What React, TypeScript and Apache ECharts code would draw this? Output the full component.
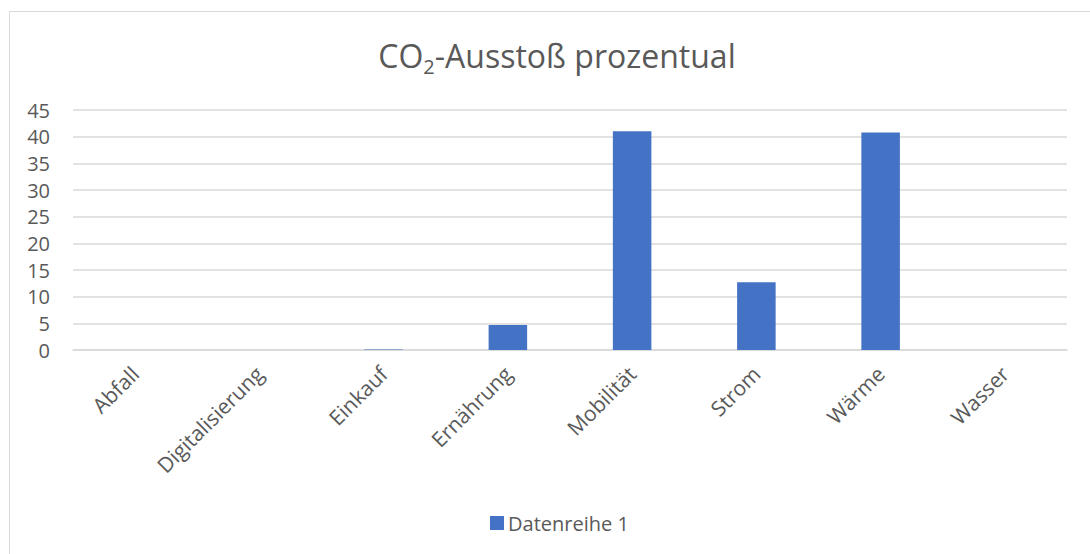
import React, { useEffect, useRef } from "react";
import * as echarts from "echarts";

const categories = ["Abfall", "Digitalisierung", "Einkauf", "Ernährung", "Mobilität", "Strom", "Wärme", "Wasser"];
const values = [0, 0, 0.1, 4.7, 41.0, 12.7, 40.8, 0];
const seriesName = "Datenreihe 1";
const FONT = "'Open Sans', sans-serif";
const TEXT = "#595959";

export default function App() {
  const ref = useRef<HTMLDivElement>(null);
  useEffect(() => {
    if (!ref.current) return;
    const chart = echarts.init(ref.current, null, { renderer: "svg" });
    chart.setOption({
      animation: false,
      backgroundColor: "#ffffff",
      title: {
        text: "CO{sub|2}-Ausstoß prozentual",
        left: 552,
        textAlign: "center",
        top: 29,
        textStyle: {
          fontFamily: FONT,
          fontSize: 32,
          fontWeight: "normal",
          color: TEXT,
          rich: {
            sub: { fontFamily: FONT, fontSize: 20, color: TEXT, padding: [22, 0, 0, 0] },
          },
        },
      },
      graphic: [
        {
          type: "rect",
          shape: { x: 9.5, y: 11.5, width: 1200, height: 700 },
          style: { fill: "none", stroke: "#d9d9d9", lineWidth: 1 },
          silent: true,
        },
      ],
      legend: {
        bottom: 16,
        left: 485,
        itemWidth: 14,
        itemHeight: 14,
        itemGap: 6,
        icon: "rect",
        textStyle: { fontFamily: FONT, fontSize: 20, color: TEXT, padding: [0, 0, 0, -1] },
        data: [seriesName],
      },
      grid: { left: 73, right: 23, top: 110, bottom: 204, containLabel: false },
      xAxis: {
        type: "category",
        data: categories,
        axisLine: { lineStyle: { color: "#d9d9d9", width: 1.5 } },
        axisTick: { show: false },
        axisLabel: {
          rotate: 45,
          interval: 0,
          margin: 20,
          fontFamily: FONT,
          fontSize: 21,
          color: TEXT,
        },
      },
      yAxis: {
        type: "value",
        min: 0,
        max: 45,
        interval: 5,
        axisLine: { show: false },
        axisTick: { show: false },
        splitLine: { lineStyle: { color: "#d9d9d9", width: 1.5 } },
        axisLabel: { margin: 23, fontFamily: FONT, fontSize: 20, color: TEXT },
      },
      series: [
        {
          name: seriesName,
          type: "bar",
          data: values,
          barCategoryGap: "69%",
          itemStyle: { color: "#4472C4" },
        },
      ],
    });
    return () => chart.dispose();
  }, []);
  return (
    <div style={{ position: "absolute", left: 0, top: 0, width: 1090, height: 554 }}>
      <div ref={ref} style={{ width: 1090, height: 554 }} />
    </div>
  );
}
